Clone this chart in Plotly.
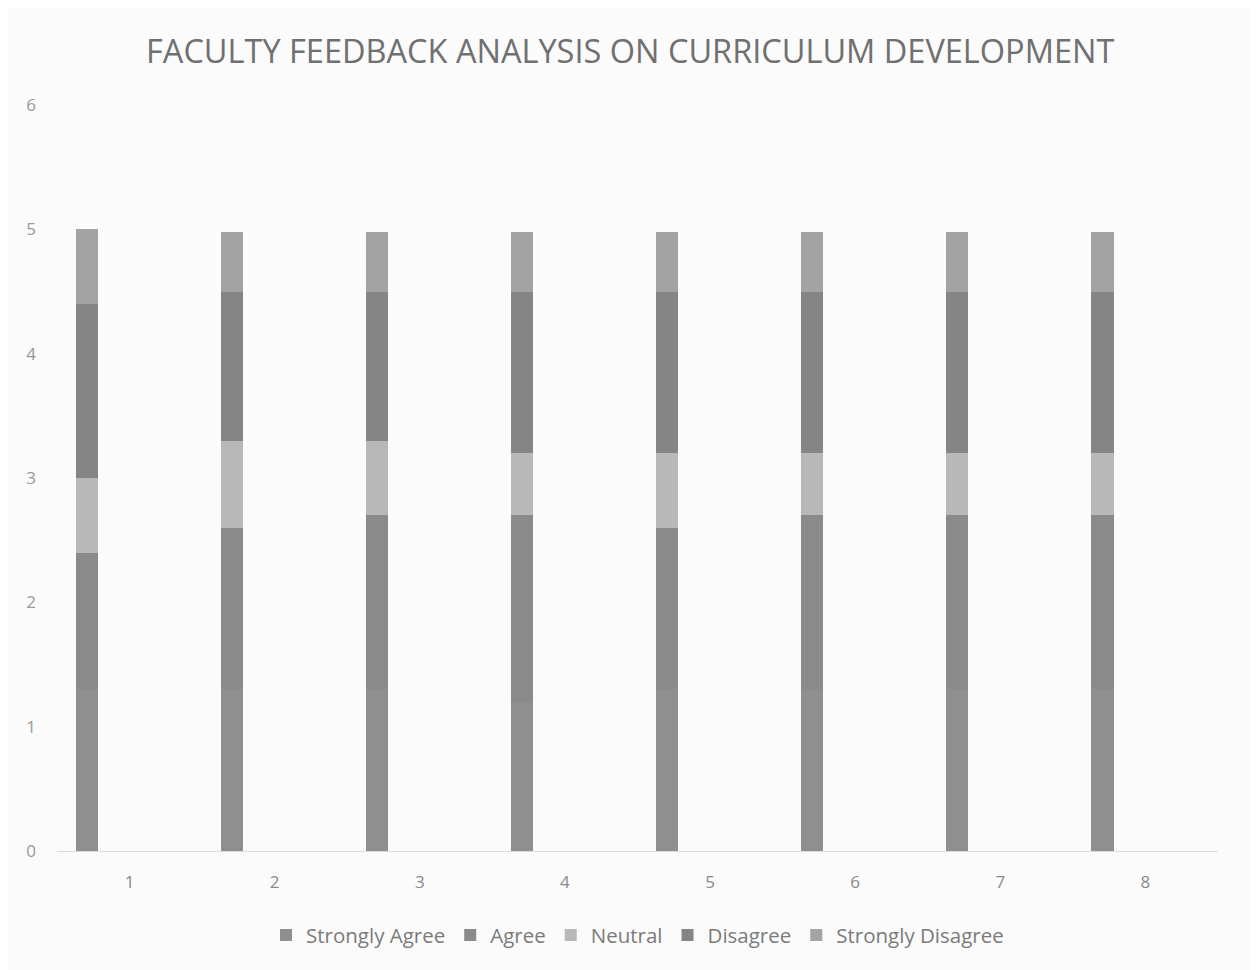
import plotly.graph_objects as go

categories = [1, 2, 3, 4, 5, 6, 7, 8]
series_names = ["Strongly Agree", "Agree", "Neutral", "Disagree", "Strongly Disagree"]
strongly_agree = [1.3, 1.3, 1.3, 1.2, 1.3, 1.3, 1.3, 1.3]
agree = [1.1, 1.3, 1.4, 1.5, 1.3, 1.4, 1.4, 1.4]
neutral = [0.6, 0.7, 0.6, 0.5, 0.6, 0.5, 0.5, 0.5]
disagree = [1.4, 1.2, 1.2, 1.3, 1.3, 1.3, 1.3, 1.3]
strongly_disagree = [0.6, 0.48, 0.48, 0.48, 0.48, 0.48, 0.48, 0.48]
values = [strongly_agree, agree, neutral, disagree, strongly_disagree]
colors = ["#8f8f8f", "#8a8a8a", "#b8b8b8", "#858585", "#a3a3a3"]

fig = go.Figure()
for name, vals, col in zip(series_names, values, colors):
    fig.add_trace(go.Bar(
        x=categories, y=vals, name=name,
        marker=dict(color=col, line=dict(width=0)),
        width=0.152, offset=-0.372,
    ))

fig.update_layout(
    barmode="stack",
    width=1257, height=970,
    paper_bgcolor="#fbfbfb", plot_bgcolor="#fbfbfb",
    margin=dict(l=49, r=47, t=97, b=127),
    title=dict(text="FACULTY FEEDBACK ANALYSIS ON CURRICULUM DEVELOPMENT",
               x=0.495, xanchor="center", y=1 - 44 / 970, yanchor="middle",
               font=dict(family="Open Sans", size=32.5, color="#707070")),
    font=dict(family="Open Sans", color="#8a8a8a"),
    legend=dict(orientation="h", x=0.5, xanchor="center", y=-0.113, yanchor="middle",
                font=dict(size=20.5, color="#7a7a7a"), traceorder="normal",
                itemwidth=30, bgcolor="rgba(0,0,0,0)"),
    showlegend=True,
)
fig.update_xaxes(range=[0.5, 8.5], tickmode="array", tickvals=categories,
                 ticktext=[str(c) for c in categories], showgrid=False,
                 showline=True, linecolor="#dcdcdc", linewidth=1, zeroline=False,
                 tickfont=dict(size=17, color="#8a8a8a"), ticks="outside",
                 ticklen=16, tickcolor="rgba(0,0,0,0)")
fig.update_yaxes(range=[0, 6], dtick=1, showgrid=False, zeroline=False,
                 showline=False, tickfont=dict(size=17, color="#999999"),
                 ticklabelstandoff=20)

fig.write_html("out.html")
